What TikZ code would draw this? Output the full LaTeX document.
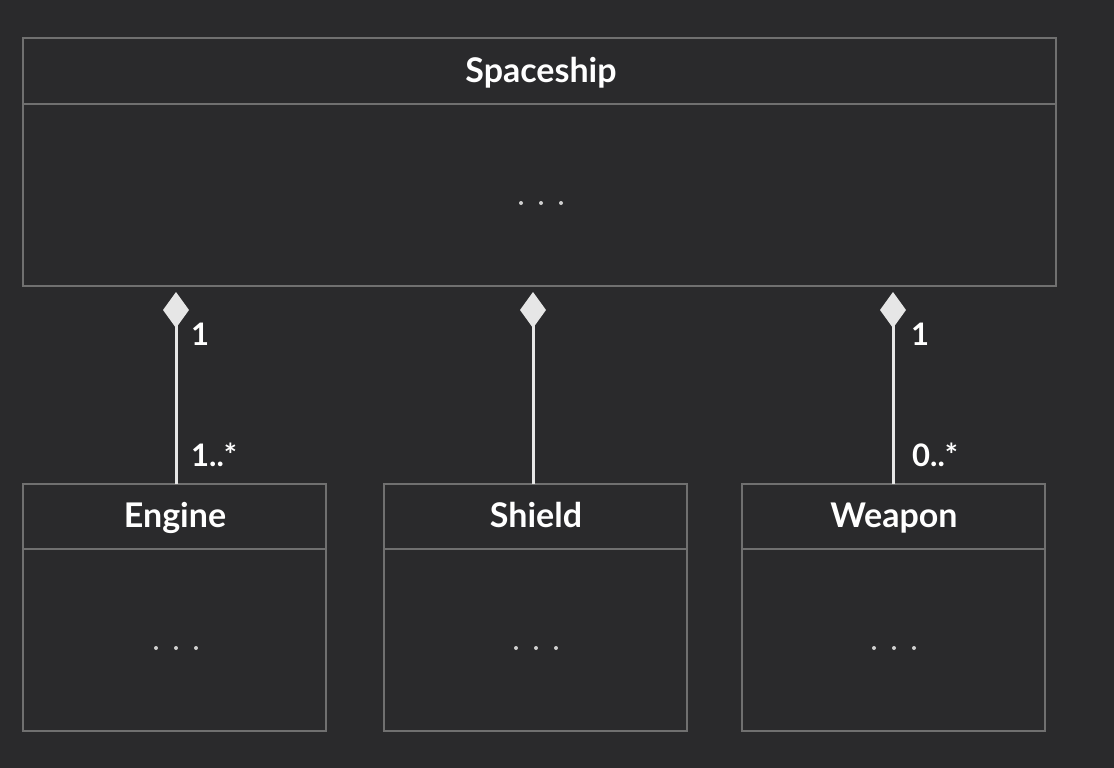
\documentclass[tikz,border=0pt]{standalone}
\usepackage{fontspec}
\setmainfont{Lato}
\usetikzlibrary{arrows.meta}
\definecolor{bg}{HTML}{2A2A2C}
\definecolor{frame}{HTML}{707070}
\definecolor{wire}{HTML}{E6E6E6}
\definecolor{dotc}{HTML}{CFCFCF}
\tikzset{
  classbox/.style={draw=frame, line width=2pt, rectangle, inner sep=0pt},
  divider/.style={draw=frame, line width=2pt},
  title/.style={text=white, font=\fontsize{34}{40}\selectfont\bfseries, inner sep=0pt, anchor=base},
  mult/.style={text=white, font=\fontsize{31}{36}\selectfont\bfseries, inner sep=0pt, anchor=base west},
  comp/.style={draw=wire, line width=3pt, -{Diamond[length=36pt,width=26pt,fill=wire]}, shorten >=5pt},
  dotmark/.style={circle, fill=dotc, inner sep=0pt, minimum size=4pt}
}
\newcommand{\threedots}[2]{%
  \node[dotmark] at (#1-20,#2) {};
  \node[dotmark] at (#1,#2) {};
  \node[dotmark] at (#1+20,#2) {};}
\begin{document}
\begin{tikzpicture}[x=1pt,y=-1pt]
\fill[bg] (0,0) rectangle (1114,768);
\useasboundingbox (0,0) rectangle (1114,768);
% Spaceship
\node[classbox, minimum width=1033pt, minimum height=248pt] (ship) at (539.5,162) {};
\draw[divider] (23,104) -- (1056,104);
\node[title] (shipt) at (541,82) {Spaceship};
\threedots{541}{203}
% Engine
\node[classbox, minimum width=303pt, minimum height=247pt] (engine) at (174.5,607.5) {};
\draw[divider] (23,549) -- (326,549);
\node[title] (enginet) at (175,527) {Engine};
\threedots{176}{648}
% Shield
\node[classbox, minimum width=303pt, minimum height=247pt] (shield) at (535.5,607.5) {};
\draw[divider] (384,549) -- (687,549);
\node[title] (shieldt) at (536,527) {Shield};
\threedots{536}{648}
% Weapon
\node[classbox, minimum width=303pt, minimum height=247pt] (weapon) at (893.5,607.5) {};
\draw[divider] (742,549) -- (1045,549);
\node[title] (weapont) at (894,527) {Weapon};
\threedots{894}{648}
% connectors
\coordinate (e) at (176,484);
\coordinate (s) at (533,484);
\coordinate (w) at (893,484);
\draw[comp] (e) -- (e |- ship.south);
\draw[comp] (s) -- (s |- ship.south);
\draw[comp] (w) -- (w |- ship.south);
% multiplicities
\node[mult] (m1) at (191,345) {1};
\node[mult] (m2) at (191,466) {1..*};
\node[mult] (m3) at (911,345) {1};
\node[mult] (m4) at (912,466) {0..*};
\end{tikzpicture}
\end{document}
